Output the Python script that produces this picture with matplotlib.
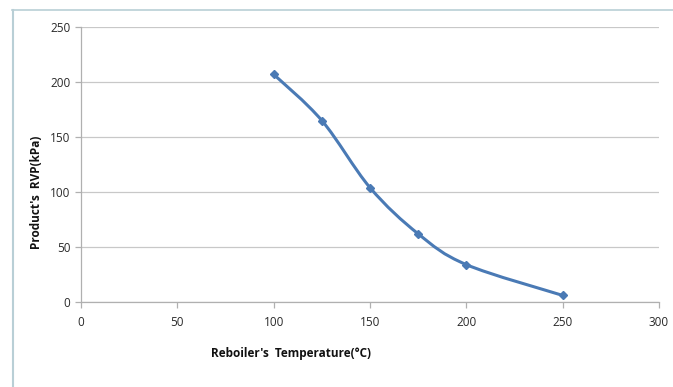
import matplotlib.pyplot as plt
import numpy as np
from matplotlib.path import Path
from matplotlib.patches import PathPatch
from matplotlib.lines import Line2D

plt.rcParams['font.family'] = ['Open Sans', 'DejaVu Sans']

temperature = [100, 125, 150, 175, 200, 250]
rvp = [207, 165, 104, 62, 34, 6]

x_ticks = [0, 50, 100, 150, 200, 250, 300]
y_ticks = [0, 50, 100, 150, 200, 250]

line_color = '#4a7ab5'


def smooth_path(xs, ys):
    # Excel-style smoothed line: cubic Bezier through each point
    pts = np.column_stack([xs, ys]).astype(float)
    n = len(pts)
    verts = [pts[0]]
    codes = [Path.MOVETO]
    for i in range(n - 1):
        p0 = pts[i - 1] if i > 0 else pts[i]
        p1 = pts[i]
        p2 = pts[i + 1]
        p3 = pts[i + 2] if i + 2 < n else pts[i + 1]
        c1 = p1 + (p2 - p0) / 6.0
        c2 = p2 - (p3 - p1) / 6.0
        verts += [c1, c2, p2]
        codes += [Path.CURVE4] * 3
    return Path(verts, codes)


fig = plt.figure(figsize=(6.73, 3.87), dpi=100)
ax = fig.add_axes([0.1204, 0.2196, 0.8588, 0.7104])

ax.add_patch(PathPatch(smooth_path(temperature, rvp), fill=False,
                       edgecolor=line_color, linewidth=2.2, zorder=3))
ax.plot(temperature, rvp, linestyle='none', marker='D', markersize=4.5,
        color=line_color, zorder=4)

ax.set_xlim(0, 300)
ax.set_ylim(0, 250)
ax.set_xticks(x_ticks)
ax.set_yticks(y_ticks)
ax.grid(axis='y', color='#c8c8c8', linewidth=0.9)
ax.set_axisbelow(True)

for side in ['top', 'right']:
    ax.spines[side].set_visible(False)
for side in ['left', 'bottom']:
    ax.spines[side].set_color('#b0b0b0')
    ax.spines[side].set_linewidth(0.9)

ax.tick_params(axis='both', colors='#b0b0b0', length=4, width=0.9,
               labelsize=8.5, labelcolor='#2a2a2a')
ax.tick_params(axis='x', pad=6)

ax.set_xlabel("Reboiler's  Temperature(°C)", fontsize=8.5, fontweight='bold',
              color='#111111')
ax.xaxis.set_label_coords(0.363, -0.165)
ax.set_ylabel("Product's  RVP(kPa)", fontsize=8.5, fontweight='bold',
              color='#111111')
ax.yaxis.set_label_coords(-0.066, 0.4)

# outer chart frame lines
fig.add_artist(Line2D([12 / 673, 1], [1 - 10 / 387, 1 - 10 / 387],
                      color='#b9cfd6', linewidth=1.2))
fig.add_artist(Line2D([13 / 673, 13 / 673], [0, 1 - 10 / 387],
                      color='#b9cfd6', linewidth=1.5))

plt.savefig('out.png', dpi=100)
